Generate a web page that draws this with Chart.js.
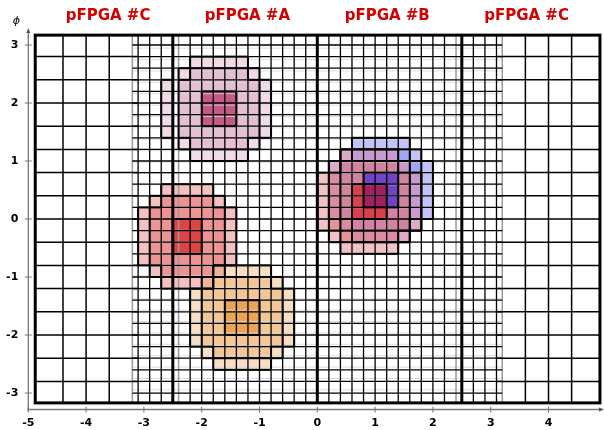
<!DOCTYPE html>
<html>
<head>
<meta charset="utf-8">
<script src="https://cdn.jsdelivr.net/npm/chart.js@4"></script>
<style>
  html, body { margin: 0; padding: 0; background: #fff; }
  canvas { display: block; }
</style>
</head>
<body>
<canvas id="chart" width="604" height="430"></canvas>
<script>
// === DATA ===
const xTicks = [-5, -4, -3, -2, -1, 0, 1, 2, 3, 4];
const yTicks = [-3, -2, -1, 0, 1, 2, 3];

const regionNames = ['pFPGA #C', 'pFPGA #A', 'pFPGA #B', 'pFPGA #C'];
const regionCenters = [-3.62, -1.21, 1.21, 3.62];

// detector outline (eta, phi) and pFPGA borders
const etaEdge = [-4.88, 4.89];
const phiEdge = [-3.17, 3.17];
const regionBorders = [-2.5, 0, 2.5];

// forward (coarse) towers
const coarseEta = [-4.4, -4.0, -3.6, 3.6, 4.0, 4.4];
const coarsePhi = [-2.8, -2.4, -2.0, -1.6, -1.2, -0.8, -0.4, 0, 0.4, 0.8, 1.2, 1.6, 2.0, 2.4, 2.8];

// barrel/endcap (fine) towers
const fineEta = [-3.1, -2.9, -2.7, -2.2, -2.0, -1.8, -1.6, -1.4, -1.2, -1.0, -0.8, -0.6, -0.4, -0.2,
                 0.2, 0.4, 0.6, 0.8, 1.0, 1.2, 1.4, 1.6, 1.8, 2.0, 2.2, 2.7, 2.9, 3.1];
const finePhi = [-3.0, -2.8, -2.6, -2.4, -2.2, -2.0, -1.8, -1.6, -1.4, -1.2, -1.0, -0.8, -0.6, -0.4, -0.2, 0,
                 0.2, 0.4, 0.6, 0.8, 1.0, 1.2, 1.4, 1.6, 1.8, 2.0, 2.2, 2.4, 2.6, 2.8, 3.0];
const fineRange = [-3.2, 3.2];
const greyEta = [-3.2, -2.4, 2.4, 3.2];
const greyPhi = [-2.945, -2.749, -2.553, -2.356, -2.160, -1.963, -1.767, -1.571, -1.374, -1.178, -0.982,
                 -0.785, -0.589, -0.393, -0.196, 0.196, 0.393, 0.589, 0.785, 0.982, 1.178, 1.374, 1.571,
                 1.767, 1.963, 2.160, 2.356, 2.553, 2.749, 2.945];

// cell bins in eta (left edges; right edge = next entry)
const etaBins = [-3.1, -2.9, -2.7, -2.5, -2.4, -2.2, -2.0, -1.8, -1.6, -1.4, -1.2, -1.0, -0.8, -0.6, -0.4, -0.2,
                 0, 0.2, 0.4, 0.6, 0.8, 1.0, 1.2, 1.4, 1.6, 1.8, 2.0, 2.2, 2.4, 2.5, 2.7, 2.9, 3.1];
const phiStep = 0.2;

// deposit levels (0 = empty, 3 = core)
const ringLevels = [
    [0, 0, 1, 1, 1, 1, 1, 0, 0],
    [0, 1, 2, 2, 2, 2, 2, 1, 0],
    [1, 2, 2, 2, 2, 2, 2, 2, 1],
    [1, 2, 2, 3, 3, 3, 2, 2, 1],
    [1, 2, 2, 3, 3, 3, 2, 2, 1],
    [1, 2, 2, 3, 3, 3, 2, 2, 1],
    [1, 2, 2, 2, 2, 2, 2, 2, 1],
    [0, 1, 2, 2, 2, 2, 2, 1, 0],
    [0, 0, 1, 1, 1, 1, 1, 0, 0]
];

const pinkCols = [-2.7, -2.4, -2.2, -2.0, -1.8, -1.6, -1.4, -1.2, -1.0];
const pinkTop = 2.8;
const pinkColors = ['#f1dbe6', '#e4bfd2', '#c45b87'];

const redACols = [-3.1, -2.9, -2.7, -2.5, -2.4, -2.2, -2.0, -1.8, -1.6];
const redATop = 0.6;
const redColors = ['rgba(217,40,40,0.29)', 'rgba(217,40,40,0.5)', 'rgba(217,40,40,0.87)'];

const orangeCols = [-2.2, -2.0, -1.8, -1.6, -1.4, -1.2, -1.0, -0.8, -0.6];
const orangeTop = -0.8;
const orangeColors = ['rgba(230,150,60,0.3)', 'rgba(230,150,60,0.53)', 'rgba(230,150,60,0.87)'];

const redBCols = [0, 0.2, 0.4, 0.6, 0.8, 1.0, 1.2, 1.4, 1.6];
const redBTop = 1.2;
const blueCols = [0.2, 0.4, 0.6, 0.8, 1.0, 1.2, 1.4, 1.6, 1.8];
const blueTop = 1.4;
// colour of a pFPGA #B cell by [red level][blue level]
const mixB = [
    [null, '#c3c3f8', '#a4a4f6', '#6a4fd6'],
    ['#f2c3c6', '#dcaacb', '#c99acd', '#6a4fd6'],
    ['#e8939a', '#dc8ca2', '#d084a0', '#7044c8'],
    ['#dc4248', '#d8414c', '#d8414c', '#a3215f']
];

// === DRAWING ===
function binRight(x0) {
    const i = etaBins.findIndex(v => Math.abs(v - x0) < 1e-6);
    return etaBins[i + 1];
}

function blobCells(cols, top) {
    const cells = [];
    ringLevels.forEach((row, r) => {
        row.forEach((lvl, c) => {
            if (!lvl) return;
            const y1 = top - phiStep * r;
            cells.push({ r, c, lvl, x0: cols[c], x1: binRight(cols[c]), y0: y1 - phiStep, y1 });
        });
    });
    return cells;
}

const towerPlugin = {
    id: 'towers',
    beforeDatasetsDraw(chart) {
        const { ctx, scales: { x, y } } = chart;
        const X = v => x.getPixelForValue(v);
        const Y = v => y.getPixelForValue(v);

        const fillCell = (cell, color) => {
            ctx.fillStyle = color;
            ctx.fillRect(X(cell.x0), Y(cell.y1), X(cell.x1) - X(cell.x0), Y(cell.y0) - Y(cell.y1));
        };

        ctx.save();

        // pFPGA #A / #C deposits, blended
        [[pinkCols, pinkTop, pinkColors], [redACols, redATop, redColors], [orangeCols, orangeTop, orangeColors]]
            .forEach(([cols, top, colors]) => {
                blobCells(cols, top).forEach(cell => fillCell(cell, colors[cell.lvl - 1]));
            });

        // pFPGA #B: two overlapping deposits
        const merged = {};
        const key = cell => cell.x0.toFixed(1) + '|' + cell.y1.toFixed(1);
        blobCells(redBCols, redBTop).forEach(cell => {
            merged[key(cell)] = { cell, red: cell.lvl, blue: 0 };
        });
        blobCells(blueCols, blueTop).forEach(cell => {
            const k = key(cell);
            if (merged[k]) merged[k].blue = cell.lvl;
            else merged[k] = { cell, red: 0, blue: cell.lvl };
        });
        Object.values(merged).forEach(m => fillCell(m.cell, mixB[m.red][m.blue]));

        const line = (x0, y0, x1, y1) => {
            ctx.beginPath();
            ctx.moveTo(X(x0), Y(y0));
            ctx.lineTo(X(x1), Y(y1));
            ctx.stroke();
        };

        // grey tower grid (faint)
        ctx.strokeStyle = '#d6d6d6';
        ctx.lineWidth = 0.8;
        greyPhi.forEach(p => line(fineRange[0], p, fineRange[1], p));
        ctx.strokeStyle = '#9a9a9a';
        ctx.lineWidth = 1.5;
        greyEta.forEach(e => line(e, phiEdge[0], e, phiEdge[1]));

        // black fine grid
        ctx.strokeStyle = '#000';
        ctx.lineWidth = 1.3;
        finePhi.forEach(p => line(fineRange[0], p, fineRange[1], p));
        fineEta.forEach(e => line(e, phiEdge[0], e, phiEdge[1]));

        // coarse forward grid
        ctx.lineWidth = 1.5;
        coarseEta.forEach(e => line(e, phiEdge[0], e, phiEdge[1]));
        coarsePhi.forEach(p => {
            line(etaEdge[0], p, fineEta[0], p);
            line(fineEta[fineEta.length - 1], p, etaEdge[1], p);
        });

        // deposit contours
        ctx.lineWidth = 2;
        [[pinkCols, pinkTop], [redACols, redATop], [orangeCols, orangeTop], [redBCols, redBTop], [blueCols, blueTop]]
            .forEach(([cols, top]) => {
                const lv = (r, c) => (ringLevels[r] && ringLevels[r][c]) || 0;
                blobCells(cols, top).forEach(cell => {
                    const { r, c, lvl } = cell;
                    if (lv(r - 1, c) < lvl) line(cell.x0, cell.y1, cell.x1, cell.y1);
                    if (lv(r + 1, c) < lvl) line(cell.x0, cell.y0, cell.x1, cell.y0);
                    if (lv(r, c - 1) < lvl) line(cell.x0, cell.y0, cell.x0, cell.y1);
                    if (lv(r, c + 1) < lvl) line(cell.x1, cell.y0, cell.x1, cell.y1);
                });
            });

        // pFPGA borders and outline
        ctx.lineWidth = 3;
        regionBorders.forEach(e => line(e, phiEdge[0], e, phiEdge[1]));
        ctx.strokeRect(X(etaEdge[0]), Y(phiEdge[1]), X(etaEdge[1]) - X(etaEdge[0]), Y(phiEdge[0]) - Y(phiEdge[1]));

        ctx.restore();
    },
    afterDraw(chart) {
        const { ctx, chartArea: area, scales: { x, y } } = chart;
        ctx.save();

        // axes with arrows
        ctx.strokeStyle = '#777';
        ctx.fillStyle = '#555';
        ctx.lineWidth = 1.3;
        ctx.beginPath();
        ctx.moveTo(area.left, area.top + 2);
        ctx.lineTo(area.left, area.bottom + 2);
        ctx.moveTo(area.left - 1, area.bottom);
        ctx.lineTo(area.right - 2, area.bottom);
        ctx.stroke();
        ctx.beginPath();
        ctx.moveTo(area.left, area.top);
        ctx.lineTo(area.left - 2, area.top + 5);
        ctx.lineTo(area.left + 2, area.top + 5);
        ctx.closePath();
        ctx.fill();
        ctx.beginPath();
        ctx.moveTo(area.right, area.bottom);
        ctx.lineTo(area.right - 5, area.bottom - 2);
        ctx.lineTo(area.right - 5, area.bottom + 2);
        ctx.closePath();
        ctx.fill();

        // tick marks crossing the axes
        ctx.lineWidth = 1;
        ctx.beginPath();
        yTicks.forEach(v => {
            const py = y.getPixelForValue(v);
            ctx.moveTo(area.left - 3.5, py);
            ctx.lineTo(area.left + 3.5, py);
        });
        xTicks.forEach(v => {
            const px = x.getPixelForValue(v);
            ctx.moveTo(px, area.bottom - 3);
            ctx.lineTo(px, area.bottom + 3);
        });
        ctx.stroke();

        // pFPGA titles
        ctx.fillStyle = '#d40000';
        ctx.font = 'bold 15px "DejaVu Sans"';
        ctx.textAlign = 'center';
        ctx.textBaseline = 'alphabetic';
        regionNames.forEach((name, i) => ctx.fillText(name, x.getPixelForValue(regionCenters[i]), 20));

        // phi axis label
        ctx.fillStyle = '#000';
        ctx.font = 'italic 11px "DejaVu Sans"';
        ctx.fillText('\u03d5', 16.3, 24);

        ctx.restore();
    }
};

const tickFont = { family: 'DejaVu Sans', weight: 'bold', size: 11 };

new Chart(document.getElementById('chart').getContext('2d'), {
    type: 'scatter',
    data: { datasets: [] },
    options: {
        responsive: false,
        animation: false,
        devicePixelRatio: 1,
        layout: { padding: { top: 28, left: 0, right: 0, bottom: 0 } },
        plugins: { legend: { display: false }, tooltip: { enabled: false } },
        scales: {
            x: {
                type: 'linear',
                min: -5,
                max: 4.96,
                grid: { display: false, drawTicks: false, tickLength: 0 },
                border: { display: false },
                ticks: { padding: 7, color: '#000', font: tickFont, autoSkip: false, maxRotation: 0 },
                afterBuildTicks: s => { s.ticks = xTicks.map(v => ({ value: v })); },
                afterFit: s => { s.height = 20.5; }
            },
            y: {
                type: 'linear',
                min: -3.284,
                max: 3.293,
                grid: { display: false, drawTicks: false, tickLength: 0 },
                border: { display: false },
                ticks: { padding: 10, color: '#000', font: tickFont, autoSkip: false },
                afterBuildTicks: s => { s.ticks = yTicks.map(v => ({ value: v })); },
                afterFit: s => { s.width = 28.3; }
            }
        }
    },
    plugins: [towerPlugin]
});
</script>
</body>
</html>
